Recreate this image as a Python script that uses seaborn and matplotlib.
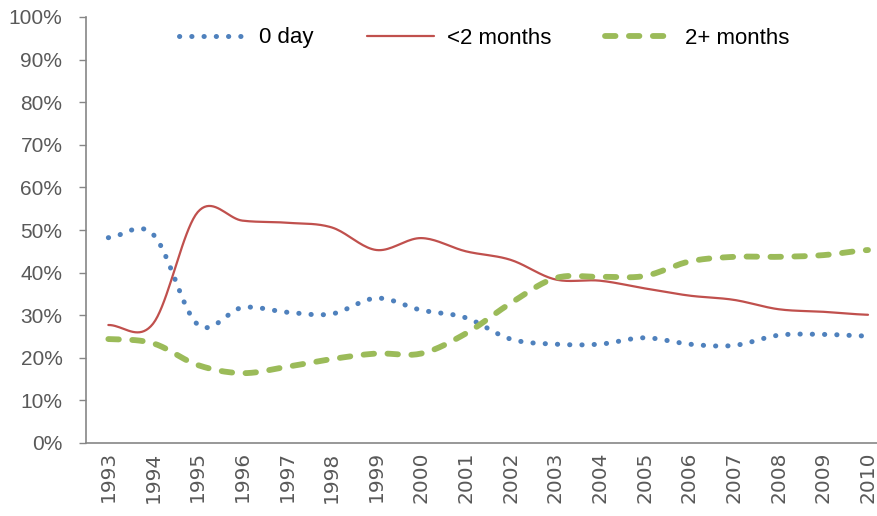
import numpy as np
import pandas as pd
import matplotlib
matplotlib.use("Agg")
import matplotlib.pyplot as plt
import seaborn as sns

# values (percent)
years = list(range(1993, 2011))
zero_day = [48.2, 49.0, 27.8, 31.8, 30.7, 30.3, 34.0, 31.2, 29.4, 24.4,
            23.2, 23.2, 24.7, 23.2, 22.9, 25.3, 25.5, 25.1]
under_2m = [27.7, 28.0, 54.2, 52.2, 51.7, 50.6, 45.3, 48.1, 45.0, 43.0,
            38.4, 38.1, 36.3, 34.6, 33.6, 31.4, 30.8, 30.1]
over_2m = [24.4, 23.4, 18.3, 16.4, 17.9, 19.7, 21.0, 21.0, 25.7, 32.8,
           38.7, 39.0, 39.2, 42.6, 43.7, 43.7, 44.1, 45.3]

series_names = ["0 day", "<2 months", "2+ months"]
colors = ["#4F81BD", "#C0504D", "#9BBB59"]


def smooth(y, n=20):
    # Excel-like smoothed line: cubic Hermite with Catmull-Rom tangents
    y = np.asarray(y, dtype=float)
    yp = np.concatenate([[y[0]], y, [y[-1]]])
    xs, ys = [], []
    for i in range(len(y) - 1):
        m0 = (yp[i + 2] - yp[i]) / 2
        m1 = (yp[i + 3] - yp[i + 1]) / 2
        t = np.linspace(0, 1, n, endpoint=False)
        h00 = 2 * t**3 - 3 * t**2 + 1
        h10 = t**3 - 2 * t**2 + t
        h01 = -2 * t**3 + 3 * t**2
        h11 = t**3 - t**2
        xs.append(i + t)
        ys.append(h00 * y[i] + h10 * m0 + h01 * y[i + 1] + h11 * m1)
    xs.append([len(y) - 1])
    ys.append([y[-1]])
    return np.concatenate(xs), np.concatenate(ys)


sns.set_style("white")
plt.rcParams['font.family'] = ['Liberation Sans Narrow', 'Liberation Sans', 'DejaVu Sans']

fig = plt.figure(figsize=(8.78, 5.16), dpi=100)
ax = fig.add_axes([86 / 878, 73 / 516, 792 / 878, 426 / 516])

styles = [
    dict(lw=3.6, ls=(0, (0.05, 2.4)), cap="round"),
    dict(lw=1.6, ls="-", cap="butt"),
    dict(lw=4.2, ls=(0, (1.8, 2.3)), cap="round"),
]

frames = []
for name, vals in zip(series_names, [zero_day, under_2m, over_2m]):
    sx, sy = smooth(vals)
    frames.append(pd.DataFrame({"x": sx, "y": sy, "series": name}))
df = pd.concat(frames, ignore_index=True)

for name, col, st in zip(series_names, colors, styles):
    sub = df[df.series == name]
    sns.lineplot(data=sub, x="x", y="y", color=col, ax=ax, label=name,
                 linewidth=st["lw"], sort=False)
    ln = ax.get_lines()[-1]
    ln.set_linestyle(st["ls"])
    ln.set_dash_capstyle(st["cap"])

ax.set_xlim(-0.5, 17.0 + 10 / 44.7)
ax.set_ylim(0, 100)
ax.set_xticks(range(len(years)))
ax.set_xticklabels([str(y) for y in years], rotation=90, family="DejaVu Sans",
                   fontsize=14.5, color="#595959")
ax.set_yticks(range(0, 101, 10))
ax.set_yticklabels([f"{v}%" for v in range(0, 101, 10)], fontsize=15, color="#595959")
ax.tick_params(axis="x", length=0, pad=6)
ax.tick_params(axis="y", length=5, width=1, color="#868686", direction="out", pad=12, left=True)
ax.set_xlabel("")
ax.set_ylabel("")

for s in ["top", "right"]:
    ax.spines[s].set_visible(False)
for s in ["left", "bottom"]:
    ax.spines[s].set_color("#868686")
    ax.spines[s].set_linewidth(1.2)

leg = ax.legend(loc="center", bbox_to_anchor=(484 / 878, 1 - 38 / 516),
                bbox_transform=fig.transFigure, ncol=3, frameon=False,
                fontsize=16, handlelength=3.0, handletextpad=0.6, columnspacing=2.4)
for t in leg.get_texts():
    t.set_color("black")

fig.savefig("out.png", dpi=100)
